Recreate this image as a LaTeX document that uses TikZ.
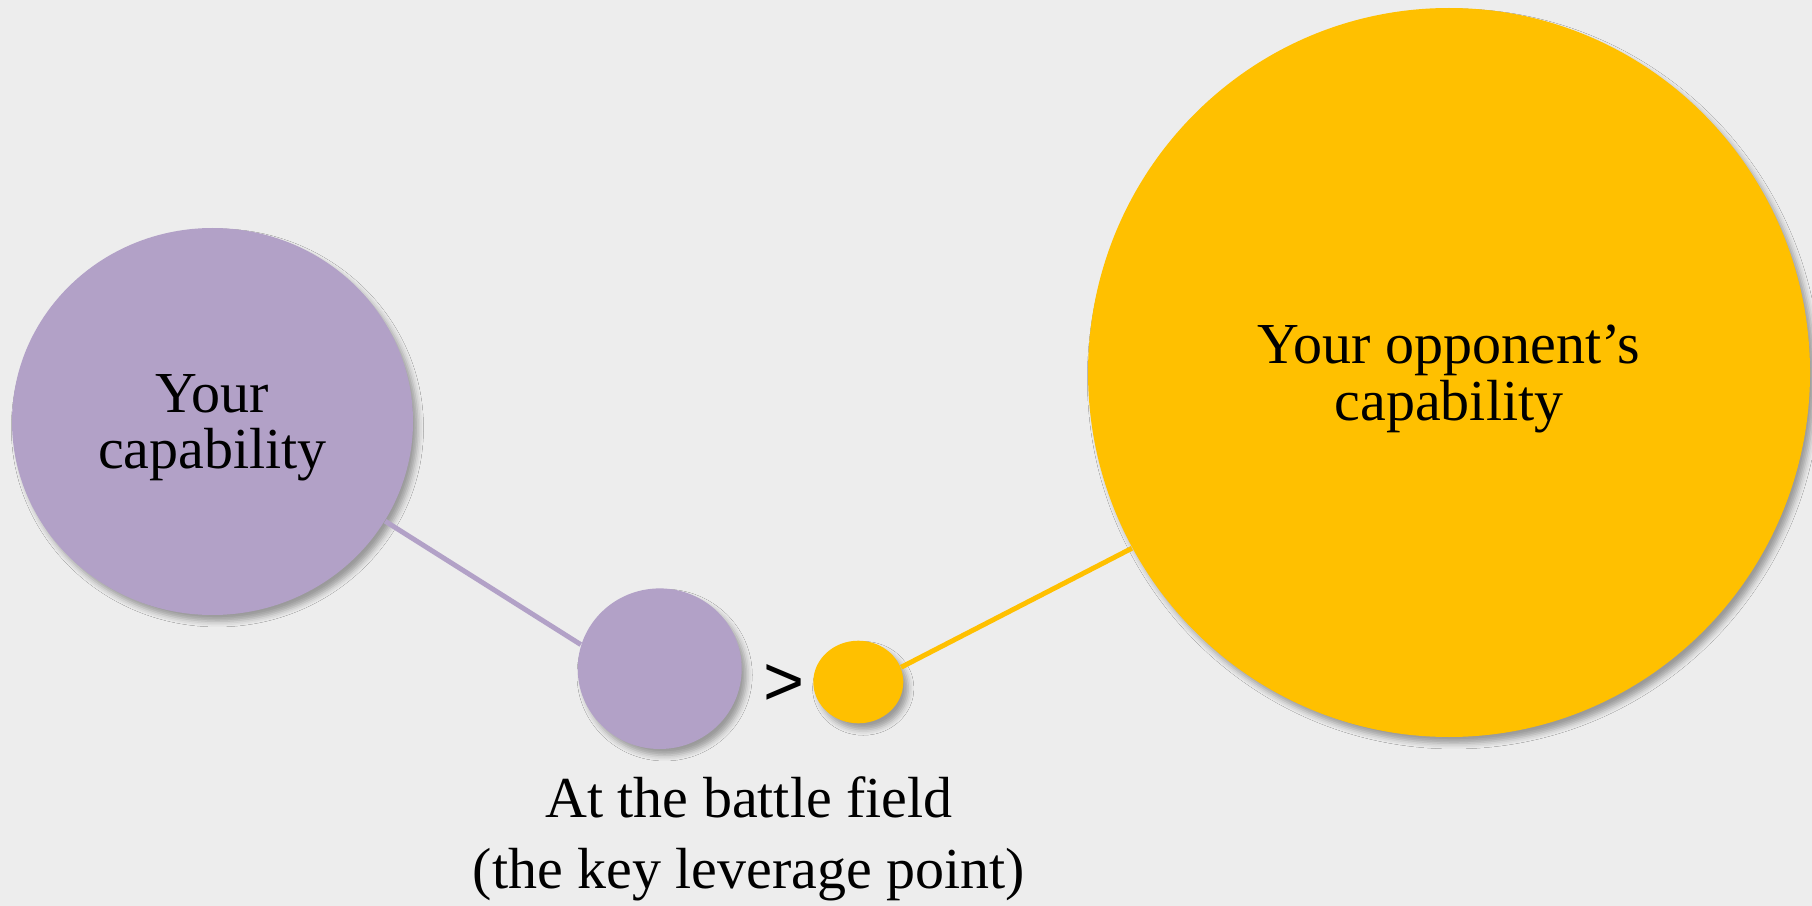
\documentclass[tikz,border=0pt]{standalone}
\usepackage{fontspec}
\setmainfont{Liberation Serif}
\newfontfamily\gtfont{Liberation Sans}
\usetikzlibrary{shapes.geometric,shadows.blur}
\definecolor{bgcol}{RGB}{237,237,237}
\definecolor{lilac}{RGB}{178,161,199}
\definecolor{gold}{RGB}{255,192,0}
\tikzset{
  blob/.style={ellipse,inner sep=0pt,align=center,
    font=\fontsize{16.5}{16.2}\selectfont,
    blur shadow={shadow xshift=1.4pt,shadow yshift=-1.8pt,shadow blur radius=1.6pt,shadow opacity=35}},
  purpleblob/.style={blob,fill=lilac},
  goldblob/.style={blob,fill=gold},
  link/.style={line width=1.4pt},
}
\begin{document}
\begin{tikzpicture}[x=0.1mm,y=-0.1mm]
\fill[bgcol] (0,0) rectangle (1812,906);
\useasboundingbox (0,0) rectangle (1812,906);
\node[purpleblob,minimum width=40.1mm,minimum height=38.7mm,text depth=-6pt] (you) at (212.5,421.5) {Your\\capability};
\node[purpleblob,minimum width=16.4mm,minimum height=16.06mm] (youfield) at (659.7,668.7) {};
\node[goldblob,minimum width=9.0mm,minimum height=8.26mm] (oppfield) at (858.3,682) {};
\node[goldblob,minimum width=72.2mm,minimum height=72.9mm,text depth=-4pt] (opp) at (1449,372.5) {Your opponent’s\\capability};
\node[font=\gtfont\fontsize{20}{24}\selectfont,inner sep=0pt] (gt) at (784,685) {>};
\node[align=center,inner sep=0pt,font=\fontsize{16.5}{20.2}\selectfont] (field) at (749,839) {At the battle field\\(the key leverage point)};
\draw[link,lilac] (you.-30.2) -- (youfield.163.4);
\draw[link,gold] (oppfield.19.4) -- (opp.-151.6);
\end{tikzpicture}
\end{document}
